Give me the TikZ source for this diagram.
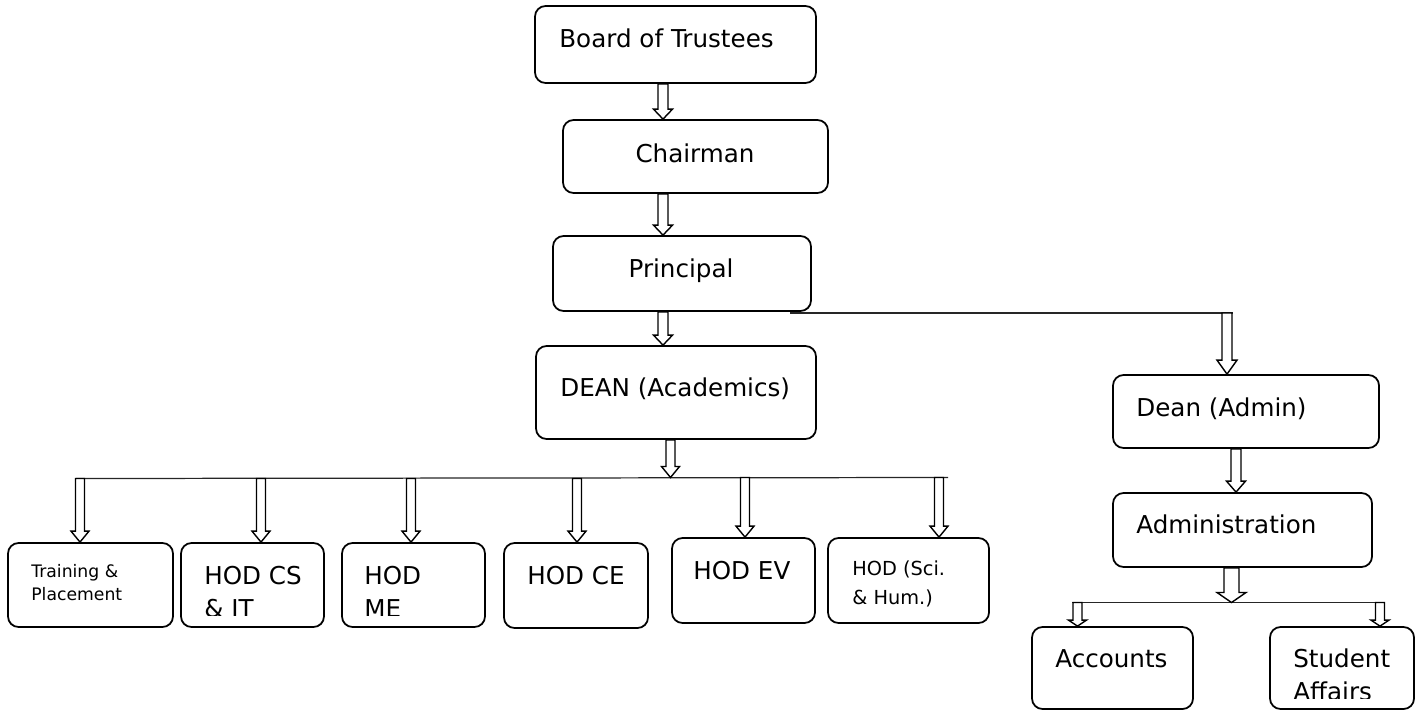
\documentclass[tikz,border=0pt]{standalone}
\usepackage{fontspec}
\setmainfont{DejaVu Sans}
\usetikzlibrary{calc}

% hollow block arrow: x, from, to, shaft half width, head half width, head length (cm)
\newcommand{\hollowarrow}[6]{%
  \draw[harrow] let \p1=(#2), \p2=(#3) in
    ({#1cm-#4cm},\y1) -- ({#1cm-#4cm},{\y2+#6cm}) -- ({#1cm-#5cm},{\y2+#6cm})
    -- (#1cm,\y2) -- ({#1cm+#5cm},{\y2+#6cm}) -- ({#1cm+#4cm},{\y2+#6cm})
    -- ({#1cm+#4cm},\y1) -- cycle;}

\begin{document}
\begin{tikzpicture}[
    box/.style={
        rectangle,
        rounded corners=6pt,
        draw=black,
        line width=1pt,
        inner sep=0pt
    },
    lbl/.style={
        anchor=base west,
        inner sep=0pt,
        align=left,
        font=\fontsize{14}{18.7}\selectfont
    },
    lblc/.style={
        lbl,
        anchor=base,
        align=center
    },
    harrow/.style={
        draw=black,
        fill=white,
        line width=0.8pt,
        line join=miter
    },
    bar/.style={
        draw=black!85,
        line width=0.7pt
    }
]

\useasboundingbox (0,0) rectangle (28.44,-14.2);

% Top of the chart
\node[box, minimum width=5.62cm, minimum height=1.54cm] (trust) at (13.51,-0.89) {};
\node[box, minimum width=5.30cm, minimum height=1.46cm] (chair) at (13.91,-3.13) {};
\node[box, minimum width=5.16cm, minimum height=1.50cm] (princ) at (13.64,-5.47) {};
\node[box, minimum width=5.60cm, minimum height=1.86cm] (deanac) at (13.52,-7.85) {};

\node[lbl] (trust-t) at (11.18,-0.94) {Board of Trustees};
\node[lblc] (chair-t) at (13.90,-3.24) {Chairman};
\node[lblc] (princ-t) at (13.62,-5.54) {Principal};
\node[lbl] (deanac-t) at (11.20,-7.92) {DEAN (Academics)};

% Departments
\node[box, minimum width=3.30cm, minimum height=1.68cm] (train) at (1.81,-11.70) {};
\node[box, minimum width=2.86cm, minimum height=1.68cm] (hodcs) at (5.05,-11.70) {};
\node[box, minimum width=2.86cm, minimum height=1.68cm] (hodme) at (8.27,-11.70) {};
\node[box, minimum width=2.88cm, minimum height=1.70cm] (hodce) at (11.52,-11.71) {};
\node[box, minimum width=2.86cm, minimum height=1.70cm] (hodev) at (14.87,-11.61) {};
\node[box, minimum width=3.22cm, minimum height=1.70cm] (hodsh) at (18.17,-11.61) {};

\node[lbl, font=\fontsize{9.8}{13}\selectfont] (train-t) at (0.62,-12.00) {Training \&\\Placement};
\begin{scope}
  \clip (hodcs.north west) rectangle ([yshift=0.24cm]hodcs.south east);
  \node[lbl] (hodcs-t) at (4.08,-12.34) {HOD CS\\\& IT};
\end{scope}
\begin{scope}
  \clip (hodme.north west) rectangle ([yshift=0.24cm]hodme.south east);
  \node[lbl] (hodme-t) at (7.28,-12.34) {HOD\\ME};
\end{scope}
\node[lbl] (hodce-t) at (10.54,-11.68) {HOD CE};
\node[lbl] (hodev-t) at (13.86,-11.58) {HOD EV};
\node[lbl, font=\fontsize{11}{16.4}\selectfont] (hodsh-t) at (17.04,-12.08) {HOD (Sci.\\\& Hum.)};

% Administration side
\node[box, minimum width=5.32cm, minimum height=1.46cm] (deanad) at (24.92,-8.23) {};
\node[box, minimum width=5.18cm, minimum height=1.48cm] (admin) at (24.85,-10.60) {};
\node[box, minimum width=3.22cm, minimum height=1.64cm] (acct) at (22.25,-13.36) {};
\node[box, minimum width=2.88cm, minimum height=1.64cm] (stud) at (26.84,-13.36) {};

\node[lbl] (deanad-t) at (22.72,-8.32) {Dean (Admin)};
\node[lbl] (admin-t) at (22.72,-10.66) {Administration};
\node[lbl] (acct-t) at (21.10,-13.34) {Accounts};
\begin{scope}
  \clip (stud.north west) rectangle ([yshift=0.22cm]stud.south east);
  \node[lbl] (stud-t) at (25.86,-14.00) {Student\\Affairs};
\end{scope}

% Bars
\coordinate (adbar-l) at (15.80,-6.26);
\coordinate (adbar-r) at (24.66,-6.26);
\coordinate (acbar-l) at (1.52,-9.57);
\coordinate (acbar-r) at (18.96,-9.55);
\coordinate (subbar-l) at (21.44,-12.05);
\coordinate (subbar-r) at (27.70,-12.05);

\draw[bar] (adbar-l) -- (adbar-r);
\draw[bar] (acbar-l) -- (acbar-r);
\draw[bar] (subbar-l) -- (subbar-r);

% Arrows
\hollowarrow{13.26}{trust.south}{chair.north}{0.1}{0.19}{0.2}
\hollowarrow{13.26}{chair.south}{princ.north}{0.1}{0.19}{0.2}
\hollowarrow{13.26}{princ.south}{deanac.north}{0.1}{0.19}{0.2}
\hollowarrow{13.41}{deanac.south}{acbar-r}{0.09}{0.18}{0.22}

\hollowarrow{1.60}{acbar-l}{train.north}{0.09}{0.18}{0.22}
\hollowarrow{5.22}{acbar-l}{hodcs.north}{0.09}{0.18}{0.22}
\hollowarrow{8.22}{acbar-l}{hodme.north}{0.09}{0.18}{0.22}
\hollowarrow{11.54}{acbar-l}{hodce.north}{0.09}{0.18}{0.22}
\hollowarrow{14.90}{acbar-r}{hodev.north}{0.09}{0.18}{0.22}
\hollowarrow{18.78}{acbar-r}{hodsh.north}{0.09}{0.18}{0.22}

\hollowarrow{24.54}{adbar-r}{deanad.north}{0.1}{0.2}{0.28}
\hollowarrow{24.72}{deanad.south}{admin.north}{0.1}{0.19}{0.22}
\hollowarrow{24.63}{admin.south}{subbar-r}{0.15}{0.29}{0.2}
\hollowarrow{21.55}{subbar-l}{acct.north}{0.09}{0.18}{0.12}
\hollowarrow{27.60}{subbar-r}{stud.north}{0.09}{0.18}{0.12}

\end{tikzpicture}
\end{document}
